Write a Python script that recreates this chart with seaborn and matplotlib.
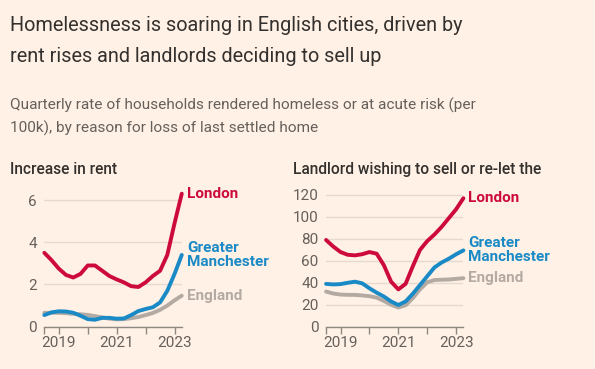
import numpy as np
import pandas as pd
import matplotlib.pyplot as plt
import seaborn as sns

# Quarterly rate of households homeless / at acute risk, per 100k
quarters = [2018.5, 2018.75, 2019.0, 2019.25, 2019.5, 2019.75,
            2020.0, 2020.25, 2020.5, 2020.75, 2021.0, 2021.25,
            2021.5, 2021.75, 2022.0, 2022.25, 2022.5, 2022.75,
            2023.0, 2023.25]

# Panel 1: increase in rent
rent_london = [3.5, 3.15, 2.75, 2.45, 2.33, 2.5, 2.9, 2.9, 2.65, 2.4,
               2.24, 2.1, 1.92, 1.88, 2.1, 2.4, 2.65, 3.4, 4.9, 6.3]
rent_manchester = [0.55, 0.68, 0.73, 0.72, 0.66, 0.52, 0.36, 0.33, 0.42, 0.42,
                   0.38, 0.39, 0.55, 0.74, 0.84, 0.92, 1.15, 1.7, 2.5, 3.4]
rent_england = [0.66, 0.66, 0.66, 0.64, 0.61, 0.59, 0.56, 0.5, 0.44, 0.38,
                0.35, 0.36, 0.4, 0.46, 0.55, 0.65, 0.8, 1.0, 1.25, 1.47]

# Panel 2: landlord wishing to sell or re-let
sell_london = [79, 73, 68, 65.5, 65, 66, 68, 66.5, 56, 41,
               34, 39, 55, 70, 78, 84, 91, 99, 107, 117]
sell_manchester = [39, 38.5, 38.8, 40, 41, 39.5, 35, 31, 27.5, 23,
                   19.8, 23, 30, 38, 46, 54, 58.5, 62, 66, 69.5]
sell_england = [32, 30.2, 29.3, 29, 29, 28.5, 27.8, 26.5, 23.5, 20,
                17.5, 19.5, 26, 34, 40.5, 42.5, 42.8, 43, 43.6, 44.2]

regions = ['England', 'Greater\nManchester', 'London']
colors = {'England': '#b3aaa3', 'Greater\nManchester': '#1a8ac6',
          'London': '#cc0a3b'}

bg = '#fff1e5'
text_dark = '#33302e'
text_grey = '#66605c'

sns.set_theme(style='white')
plt.rcParams['font.family'] = ['Roboto', 'DejaVu Sans']

fig = plt.figure(figsize=(5.95, 3.69), dpi=100, facecolor=bg)

# title and subtitle, one line at a time
fig.text(0.017, 0.9168, 'Homelessness is soaring in English cities, driven by',
         fontsize=14.3, color=text_dark, va='baseline')
fig.text(0.017, 0.8328, 'rent rises and landlords deciding to sell up',
         fontsize=14.3, color=text_dark, va='baseline')
fig.text(0.017, 0.7038, 'Quarterly rate of households rendered homeless or at acute risk (per',
         fontsize=11.05, color=text_grey, va='baseline')
fig.text(0.017, 0.6404, '100k), by reason for loss of last settled home',
         fontsize=11.05, color=text_grey, va='baseline')
fig.text(0.017, 0.528, 'Increase in rent', fontsize=11.2, color=text_dark,
         fontweight='medium', va='baseline')
fig.text(0.493, 0.528, 'Landlord wishing to sell or re-let the', fontsize=11.2,
         color=text_dark, fontweight='medium', va='baseline')


def panel(rect, series, yticks):
    ax = fig.add_axes(rect)
    ax.set_facecolor(bg)
    df = pd.DataFrame({'quarter': quarters * 3,
                       'value': series[0] + series[1] + series[2],
                       'region': np.repeat(regions, len(quarters))})
    sns.lineplot(data=df, x='quarter', y='value', hue='region',
                 hue_order=regions, palette=colors, linewidth=2.8,
                 legend=False, ax=ax, clip_on=False, solid_capstyle='round')
    ax.set_xlim(2018.5, 2023.25)
    ax.set_ylim(0, yticks[-1] + (yticks[1] - yticks[0]) * 0.25)
    ax.set_yticks(yticks)
    ax.set_yticklabels([str(t) for t in yticks])
    ax.set_xticks([2018.5, 2019, 2020, 2021, 2022, 2023])
    ax.set_xticklabels(['', '2019', '', '2021', '', '2023'])
    ax.grid(axis='y', color='#e6dacf', linewidth=1)
    ax.set_axisbelow(True)
    ax.set_xlabel('')
    ax.set_ylabel('')
    for s in ['top', 'right', 'left']:
        ax.spines[s].set_visible(False)
    ax.spines['bottom'].set_color('#8f8882')
    ax.spines['bottom'].set_linewidth(1)
    ax.tick_params(axis='x', length=5, width=1, color='#8f8882',
                   labelsize=11, labelcolor=text_grey, pad=2, bottom=True)
    ax.tick_params(axis='y', length=0, labelsize=11, labelcolor=text_grey, pad=5.5)
    for name, vals in zip(regions, series):
        ax.annotate(name, (quarters[-1], vals[-1]), xytext=(3.6, 0),
                    textcoords='offset points', va='center', ha='left',
                    color=colors[name], fontsize=11, fontweight='bold',
                    linespacing=1.0, annotation_clip=False)
    return ax


panel([0.0745, 0.1146, 0.231, 0.372],
      [rent_england, rent_manchester, rent_london], [0, 2, 4, 6])
panel([0.548, 0.1146, 0.2308, 0.372],
      [sell_england, sell_manchester, sell_london], [0, 20, 40, 60, 80, 100, 120])

fig.savefig('out.png', dpi=100, facecolor=bg)
